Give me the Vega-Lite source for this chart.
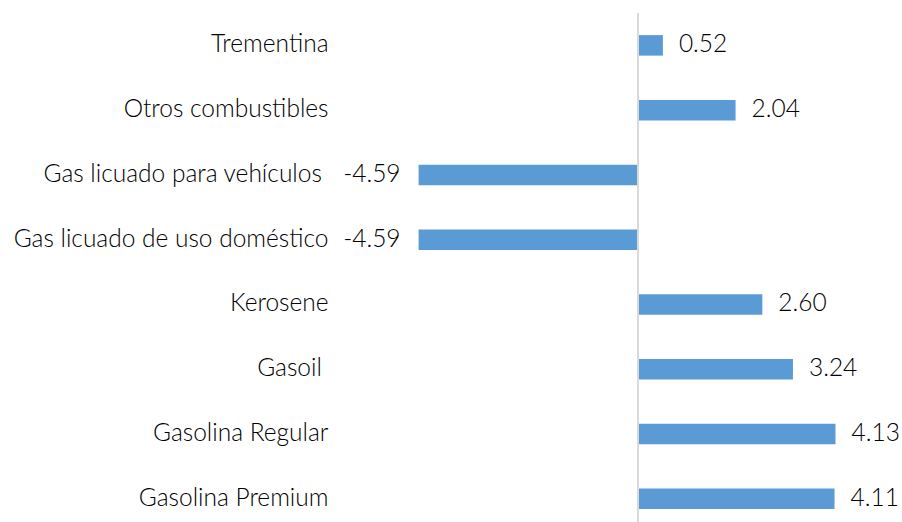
{
  "$schema": "https://vega.github.io/schema/vega-lite/v6.json",
  "width": 568,
  "height": 509,
  "autosize": "none",
  "padding": {"left": 333, "top": 13, "right": 1, "bottom": 0},
  "background": "white",
  "config": {
    "view": {"stroke": null},
    "font": "Lato",
    "locale": {"number": {"decimal": ".", "thousands": ",", "grouping": [3], "currency": ["$", ""], "minus": "-"}}
  },
  "data": {
    "values": [
      {"producto": "Trementina", "valor": 0.52},
      {"producto": "Otros combustibles", "valor": 2.04},
      {"producto": "Gas licuado para vehículos\u00a0\u2060", "valor": -4.59},
      {"producto": "Gas licuado de uso doméstico", "valor": -4.59},
      {"producto": "Kerosene", "valor": 2.60},
      {"producto": "Gasoil\u00a0\u2060", "valor": 3.24},
      {"producto": "Gasolina Regular", "valor": 4.13},
      {"producto": "Gasolina Premium", "valor": 4.11}
    ]
  },
  "layer": [
    {
      "mark": {"type": "bar", "color": "#5B9BD5", "size": 20.5},
      "encoding": {
        "y": {
          "field": "producto", "type": "nominal", "sort": null,
          "scale": {"range": [0, 518], "paddingInner": 0, "paddingOuter": 0},
          "axis": {"title": null, "domain": false, "ticks": false, "labelPadding": 5, "labelFontSize": 24.5, "labelFontWeight": 300, "labelColor": "#000000", "labelFont": "Lato", "labelLimit": 400}
        },
        "x": {"field": "valor", "type": "quantitative", "scale": {"domain": [-6.38, 5.5], "nice": false, "zero": false}, "axis": null}
      }
    },
    {
      "mark": {"type": "rule", "color": "#D9D9D9", "strokeWidth": 1.5},
      "encoding": {"x": {"datum": 0, "type": "quantitative"}}
    },
    {
      "transform": [{"filter": "datum.valor >= 0"}],
      "mark": {"type": "text", "align": "left", "baseline": "middle", "dx": 16, "fontSize": 24.5, "fontWeight": 300, "color": "#000000"},
      "encoding": {
        "y": {"field": "producto", "type": "nominal", "sort": null},
        "x": {"field": "valor", "type": "quantitative"},
        "text": {"field": "valor", "type": "quantitative", "format": ".2f"}
      }
    },
    {
      "transform": [{"filter": "datum.valor < 0"}],
      "mark": {"type": "text", "align": "right", "baseline": "middle", "dx": -18, "fontSize": 24.5, "fontWeight": 300, "color": "#000000"},
      "encoding": {
        "y": {"field": "producto", "type": "nominal", "sort": null},
        "x": {"field": "valor", "type": "quantitative"},
        "text": {"field": "valor", "type": "quantitative", "format": ".2f"}
      }
    }
  ]
}
